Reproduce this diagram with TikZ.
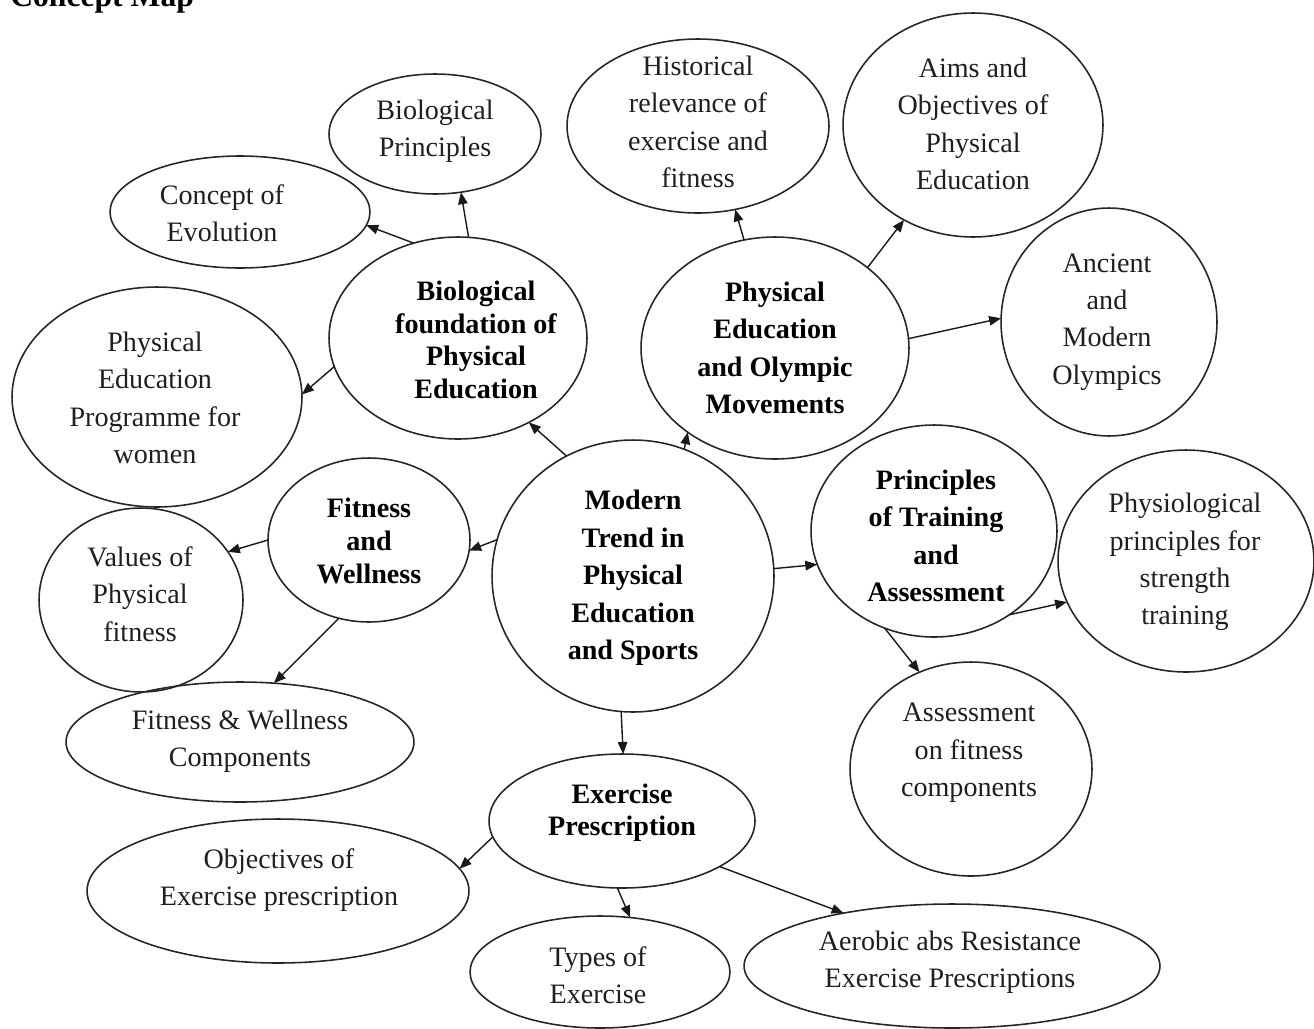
\documentclass[tikz,border=0pt]{standalone}
\usepackage{fontspec}
\setmainfont{Liberation Serif}
\usetikzlibrary{shapes.geometric,arrows.meta}
\begin{document}
\begin{tikzpicture}[x=0.02cm,y=-0.02cm,
  bubble/.style 2 args={ellipse,draw=black!85,line width=0.9pt,
    minimum width=#1cm,minimum height=#2cm,inner sep=0pt,outer sep=0pt},
  txtn/.style={align=center,font=\fontsize{16}{21.3}\selectfont,
    text=black!88,inner sep=0pt},
  txtb/.style={align=center,font=\fontsize{16}{21.3}\selectfont\bfseries,
    text=black,inner sep=0pt},
  tight/.style={font=\fontsize{16}{18.5}\selectfont\bfseries},
  link/.style={line width=0.8pt,draw=black!90,
    -{Triangle[length=2.4mm,width=1.9mm]}}]

\useasboundingbox (0,0) rectangle (1314,1028);
\fill[white] (0,0) rectangle (1314,1028);

% heading (partly above the page edge)
\node[anchor=base west,inner sep=0pt,font=\fontsize{18}{20}\selectfont\bfseries]
  (title) at (10,6) {Concept Map};

% ---- bubbles ----
\node[bubble={4.24}{2.40}] (bp)  at (435,134) {};
\node[bubble={5.20}{2.24}] (ce)  at (240,212) {};
\node[bubble={5.24}{3.48}] (hr)  at (698,126) {};
\node[bubble={5.20}{4.48}] (ao)  at (973,125) {};
\node[bubble={5.16}{4.04}] (bf)  at (458,338) {};
\node[bubble={5.36}{4.44}] (peo) at (775,348) {};
\node[bubble={4.32}{4.56}] (amo) at (1109,322) {};
\node[bubble={5.80}{4.40}] (pew) at (157,397) {};
\node[bubble={4.04}{3.28}] (fw)  at (369,540) {};
\node[bubble={4.08}{3.68}] (vpf) at (141,600) {};
\node[bubble={5.64}{5.44}] (mt)  at (633,576) {};
\node[bubble={4.92}{4.24}] (pta) at (934,531) {};
\node[bubble={5.12}{4.44}] (pps) at (1186,561) {};
\node[bubble={4.84}{4.28}] (afc) at (971,769) {};
\node[bubble={6.96}{2.40}] (fwc) at (240,742) {};
\node[bubble={5.32}{2.68}] (ep)  at (622,821) {};
\node[bubble={7.64}{2.88}] (oep) at (278,891) {};
\node[bubble={5.20}{2.24}] (te)  at (600,972) {};
\node[bubble={8.32}{2.48}] (ar)  at (952,966) {};

% ---- texts ----
\node[txtn] (bp-t)  at (435,131) {Biological\\Principles};
\node[txtn] (ce-t)  at (222,213) {Concept of\\Evolution};
\node[txtn] (hr-t)  at (698,122) {Historical\\relevance of\\exercise and\\fitness};
\node[txtn] (ao-t)  at (973,124) {Aims and\\Objectives of\\Physical\\Education};
\node[txtb,tight] (bf-t) at (476,340) {Biological\\foundation of\\Physical\\Education};
\node[txtb] (peo-t) at (775,348) {Physical\\Education\\and Olympic\\Movements};
\node[txtn] (amo-t) at (1107,322) {Ancient\\and\\Modern\\Olympics};
\node[txtn] (pew-t) at (155,398) {Physical\\Education\\Programme for\\women};
\node[txtb,font=\fontsize{16}{18.8}\selectfont\bfseries] (fw-t) at (369,541) {Fitness\\and\\Wellness};
\node[txtn] (vpf-t) at (140,594) {Values of\\Physical\\fitness};
\node[txtb] (mt-t)  at (633,578) {Modern\\Trend in\\Physical\\Education\\and Sports};
\node[txtb] (pta-t) at (936,536) {Principles\\of Training\\and\\Assessment};
\node[txtn] (pps-t) at (1185,562) {Physiological\\principles for\\strength\\training};
\node[txtn] (afc-t) at (969,753) {Assessment\\on fitness\\components};
\node[txtn] (fwc-t) at (240,741) {Fitness \& Wellness\\Components};
\node[txtb,font=\fontsize{16}{18.2}\selectfont\bfseries] (ep-t) at (622,813) {Exercise\\Prescription};
\node[txtn] (oep-t) at (279,880) {Objectives of\\Exercise prescription};
\node[txtn] (te-t)  at (598,975) {Types of\\Exercise};
\node[txtn] (ar-t)  at (950,962) {Aerobic abs Resistance\\Exercise Prescriptions};

% ---- links ----
\draw[link] (bf.84)    -- (bp.294);
\draw[link] (bf.115)   -- (ce.354);
\draw[link] (bf.193)   -- (pew.1);
\draw[link] (mt.119.5) -- (bf.310);
\draw[link] (mt.68.5)  -- (peo.224.6);
\draw[link] (peo.106)  -- (hr.294);
\draw[link] (peo.41.3) -- (ao.234);
\draw[link] (peo.4.2)  -- (amo.178);
\draw[link] (mt.3.2)   -- (pta.196);
\draw[link] (pta.312)  -- (pps.199);
\draw[link] (pta.243)  -- (afc.118);
\draw[link] (mt.265)   -- (ep.89);
\draw[link] (mt.165.7) -- (fw.354);
\draw[link] (fw.180.6) -- (vpf.29.7);
\draw[link] (fw.249.3) -- (fwc.60.6);
\draw[link] (ep.187.4) -- (oep.7.6);
\draw[link] (ep.266.6) -- (te.61);
\draw[link] (ep.335.4) -- (ar.154);
\end{tikzpicture}
\end{document}
